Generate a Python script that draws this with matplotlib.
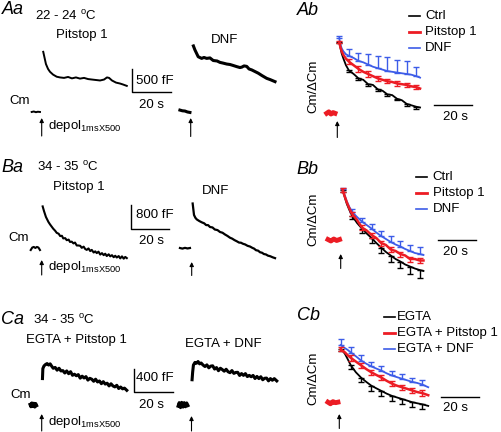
import numpy as np
import matplotlib
matplotlib.use('Agg')
import matplotlib.pyplot as plt
from matplotlib.lines import Line2D

nan = np.nan

# ---------------- raw capacitance traces (s, fF); baseline, gap, response ----------------
pit_a_t = [-5.2, -4.1, -3.0, -2.0, -0.9, nan, 0.8, 1.5, 2.2, 3.3, 4.3, 5.9, 7.8, 9.5, 11.6,
           13.7, 15.7, 17.8, 19.9, 22.0, 24.1, 26.1, 28.2, 30.3, 32.4, 33.9, 35.0, 36.5,
           38.6, 40.7, 42.2, 44.2]
pit_a_v = [-10, 0, -15, -5, -10, nan, 1270, 1140, 1010, 905, 845, 785, 740, 725, 715,
           735, 705, 725, 700, 715, 690, 680, 670, 660, 680, 725, 715, 660,
           615, 595, 575, 545]

dnf_a_t = [-5.6, -4.3, -3.0, -1.7, -0.4, nan, 1.4, 2.2, 3.9, 5.7, 6.9, 8.3, 10.0, 11.7,
           13.7, 15.2, 16.8, 18.7, 20.4, 22.0, 23.9, 25.6, 26.6, 27.7, 29.1, 30.3, 31.7,
           33.4, 35.1, 37.0, 39.5, 41.2, 43.8]
dnf_a_v = [30, 15, 10, -10, -20, nan, 1395, 1310, 1165, 1130, 1150, 1130, 1140, 1085,
           1075, 1045, 1030, 1010, 1000, 980, 955, 935, 945, 970, 960, 905, 885,
           850, 815, 765, 705, 680, 635]

pit_b_t = [-5.7, -4.9, -4.1, -3.3, -2.5, -1.7, -0.9, nan,
           0.5, 1.2, 2.2, 3.5, 4.3, 5.2, 6.0, 7.0, 7.8, 8.8,
           9.6, 10.5, 11.2, 12.2, 13.0, 14.0, 14.7, 15.6, 16.5, 17.3,
           18.2, 19.0, 20.0, 20.8, 21.8, 22.6, 23.4, 24.3, 25.2, 26.0,
           27.0, 27.8, 28.6, 29.5, 30.4, 31.3, 32.2, 33.0, 33.8, 34.8,
           35.6, 36.5, 37.4, 38.2, 39.0, 40.0, 40.8, 41.7, 42.6, 43.4, 44.2]
pit_b_v = [-35, 50, 70, 35, 70, 50, -35, nan,
           1450, 1290, 1090, 920, 840, 760, 690, 620, 550, 520,
           440, 450, 360, 370, 300, 320, 240, 250, 190, 220,
           120, 120, 110, 40, 80, 0, -30, 20, -70, -30,
           -120, -80, -140, -90, -190, -140, -210, -160, -240, -180,
           -250, -210, -280, -230, -290, -240, -320, -250, -330, -270, -310]

dnf_b_t = [-6.1, -4.8, -3.5, -2.2, -0.9, nan,
           0.5, 0.9, 1.2, 1.9, 2.6, 3.9, 5.2, 6.5, 7.5, 8.5,
           9.5, 10.8, 12.0, 13.4, 14.7, 16.0, 17.3, 18.6, 19.9, 21.0,
           22.2, 23.4, 24.6, 25.6, 26.6, 27.8, 29.0, 30.3, 31.5, 32.4,
           33.4, 34.5, 35.5, 36.5, 37.5, 38.6, 39.6, 40.8, 42.0, 43.3]
dnf_b_v = [10, -10, 15, -5, 10, nan,
           1525, 1300, 1135, 1040, 985, 930, 885, 850, 790, 790,
           725, 710, 640, 620, 555, 530, 470, 420, 360, 330,
           280, 240, 195, 190, 155, 130, 85, 60, 15, -10,
           -65, -80, -135, -150, -195, -210, -250, -270, -305, -335]

pit_c_t = [-6.1, -5.6, -5.1, -4.6, -4.1, -3.6, -3.1, -2.6, nan,
           0.4, 0.6, 1.2, 2.0, 2.8, 3.6, 4.4, 5.2, 6.0,
           7, 8, 9, 10, 11, 12, 13, 14, 15, 16, 17, 18, 19, 20, 21, 22, 23, 24, 25,
           26, 27, 28, 29, 30, 31, 32, 33, 34, 35, 36, 37, 38, 39, 40, 41, 42, 43, 44.2]
pit_c_v = [10, -30, 35, -25, 30, -35, 25, -10, nan,
           450, 620, 665, 690, 705, 680, 700, 660, 625,
           640, 593, 625, 580, 585, 545, 580, 533, 567, 506, 524, 498, 517, 457, 491,
           460, 483, 424, 454, 439, 404, 439, 392, 409, 363, 397, 356, 371, 325, 361,
           325, 308, 335, 281, 306, 275, 287, 250]

dnf_c_t = [-7.0, -6.4, -5.7, -5.1, -4.4, -3.8, -3.1, -2.5, -1.8, nan,
           0.3, 0.6, 1.0, 1.8, 2.6, 3.4, 4.2, 5.0, 6.0,
           7, 8, 9, 10, 11, 12, 13, 14, 15, 16, 17, 18, 19, 20, 21, 22, 23, 24, 25,
           26, 27, 28, 29, 30, 31, 32, 33, 34, 35, 36, 37, 38, 39, 40, 41, 42, 43, 44.3]
dnf_c_v = [-20, 40, -45, 45, -35, 40, -30, 35, -10, nan,
           430, 560, 680, 725, 710, 740, 700, 715, 680,
           655, 683, 633, 662, 667, 612, 637, 584, 626, 603, 575, 608, 566, 550, 586,
           538, 554, 556, 503, 535, 504, 534, 484, 504, 481, 503, 451, 486, 450, 481,
           430, 455, 458, 411, 449, 421, 449, 410]

# ---------------- normalised mean traces (Cm/dCm) ----------------
ab_t = [-5.5, -4.4, -3.3, -2.2, -1.2, nan, 1, 1.6, 2.3, 3.2, 4.5, 6, 8.5, 11, 13.5, 16,
        18.5, 21, 23.5, 26, 28.5, 31, 33.5, 36, 38.5, 41, 43]
ab_ctrl = [0.01, -0.01, 0.01, -0.01, 0.0, nan, 0.98, 0.90, 0.82, 0.75, 0.66, 0.59, 0.54,
           0.48, 0.46, 0.40, 0.39, 0.33, 0.31, 0.26, 0.25, 0.20, 0.18, 0.13, 0.11, 0.09, 0.08]
ab_pit = [0.0, 0.02, -0.01, 0.01, 0.0, nan, 0.98, 0.91, 0.85, 0.80, 0.75, 0.71, 0.66,
          0.61, 0.57, 0.54, 0.51, 0.48, 0.46, 0.44, 0.43, 0.41, 0.40, 0.39, 0.37, 0.36, 0.34]
ab_dnf = [0.0, 0.01, 0.0, -0.01, 0.01, nan, 1.03, 0.95, 0.89, 0.85, 0.81, 0.79, 0.76,
          0.72, 0.70, 0.67, 0.64, 0.62, 0.60, 0.58, 0.57, 0.56, 0.55, 0.54, 0.53, 0.51, 0.49]
ab_err_t = [1, 6, 11, 16, 21, 26, 31, 36, 41]
ab_ctrl_err = [0.02, 0.02, 0.02, 0.02, 0.02, 0.02, 0.02, 0.03, 0.03]
ab_pit_err = [0.02, 0.03, 0.04, 0.04, 0.03, 0.03, 0.03, 0.03, 0.03]
ab_dnf_err = [0.03, 0.09, 0.11, 0.15, 0.17, 0.20, 0.17, 0.18, 0.13]

bb_t = [-6.6, -5.1, -3.6, -2.1, -0.6, nan, 1, 1.6, 2.3, 3.2, 4.5, 6, 8.5, 11, 13.5, 16,
        18.5, 21, 23.5, 26, 28.5, 31, 33.5, 36, 38.5, 41, 43]
bb_ctrl = [0.0, 0.02, 0.0, 0.01, 0.0, nan, 1.0, 0.92, 0.83, 0.72, 0.60, 0.48, 0.34, 0.23,
           0.13, 0.04, -0.06, -0.15, -0.24, -0.31, -0.38, -0.43, -0.49, -0.53, -0.57,
           -0.60, -0.62]
bb_pit = [0.01, -0.02, 0.02, -0.01, 0.01, nan, 1.0, 0.93, 0.85, 0.75, 0.63, 0.52, 0.40,
          0.25, 0.19, 0.10, 0.04, -0.06, -0.10, -0.19, -0.22, -0.28, -0.31, -0.38, -0.38,
          -0.41, -0.41]
bb_dnf = [0.02, 0.0, 0.01, -0.01, 0.0, nan, 1.02, 0.95, 0.87, 0.77, 0.66, 0.56, 0.46,
          0.37, 0.30, 0.23, 0.15, 0.08, 0.02, -0.04, -0.09, -0.13, -0.18, -0.22, -0.26,
          -0.28, -0.30]
bb_err_t = [1, 6, 11, 16, 21, 26, 31, 36, 41]
bb_ctrl_err = [0.03, 0.06, 0.08, 0.10, 0.11, 0.12, 0.13, 0.14, 0.15]
bb_pit_err = [0.04, 0.04, 0.05, 0.05, 0.05, 0.05, 0.05, 0.05, 0.05]
bb_dnf_err = [0.03, 0.06, 0.08, 0.10, 0.11, 0.12, 0.12, 0.13, 0.15]

cb_t = [-5.9, -4.6, -3.3, -2.0, -0.7, nan, 0.7, 1.4, 2.2, 3.0, 4.3, 6, 8.6, 11.3, 14,
        16.6, 19.2, 21.9, 24.6, 27.2, 29.8, 32.5, 35.2, 37.8, 40.4, 43.1, 46.2]
cb_ctrl = [0.0, 0.02, -0.02, 0.01, 0.0, nan, 1.0, 0.98, 0.95, 0.91, 0.82, 0.70, 0.57,
           0.47, 0.39, 0.32, 0.27, 0.22, 0.17, 0.13, 0.10, 0.07, 0.04, 0.01, -0.01,
           -0.03, -0.06]
cb_pit = [0.01, -0.02, 0.02, 0.0, 0.01, nan, 1.0, 0.98, 0.96, 0.94, 0.89, 0.84, 0.77,
          0.70, 0.63, 0.57, 0.52, 0.47, 0.41, 0.36, 0.32, 0.29, 0.26, 0.23, 0.20, 0.18, 0.14]
cb_dnf = [0.02, 0.0, 0.01, -0.02, 0.0, nan, 1.08, 1.06, 1.04, 1.02, 0.99, 0.94, 0.87,
          0.79, 0.73, 0.68, 0.64, 0.60, 0.55, 0.51, 0.48, 0.45, 0.42, 0.39, 0.37, 0.34, 0.29]
cb_err_t = [0.7, 6, 11.3, 16.6, 21.9, 27.2, 32.5, 37.8, 43.1]
cb_ctrl_err = [0.03, 0.07, 0.09, 0.10, 0.10, 0.10, 0.10, 0.09, 0.08]
cb_pit_err = [0.04, 0.05, 0.05, 0.05, 0.05, 0.05, 0.05, 0.05, 0.05]
cb_dnf_err = [0.11, 0.10, 0.10, 0.09, 0.09, 0.09, 0.09, 0.08, 0.08]

legend_b = ['Ctrl', 'Pitstop 1', 'DNF']
legend_c = ['EGTA', 'EGTA + Pitstop 1', 'EGTA + DNF']

# ---------------- layout ----------------
W, H = 502, 432
PPS = 1.925     # pixels per second (20 s bar)
BAR = 23.5      # pixel height of the fF bars
FS = 9.5
RED = '#ec1c24'
BLUE = '#3d5ce8'

plt.rcParams['font.family'] = 'Liberation Sans'
plt.rcParams['mathtext.fontset'] = 'custom'
plt.rcParams['mathtext.rm'] = 'Liberation Sans'
plt.rcParams['mathtext.it'] = 'Liberation Sans:italic'

fig = plt.figure(figsize=(W / 100, H / 100), dpi=100)


def panel(x0, y0, ppu):
    '''Invisible full-figure axes, data (0, 0) sits at pixel (x0, y0).'''
    ax = fig.add_axes([0, 0, 1, 1])
    ax.set_xlim(-x0 / PPS, (W - x0) / PPS)
    ax.set_ylim((y0 - H) / ppu, y0 / ppu)
    ax.axis('off')
    ax._pix = (x0, y0, ppu)
    return ax


def to_data(ax, px, py):
    x0, y0, ppu = ax._pix
    return (px - x0) / PPS, (y0 - py) / ppu


def text(x, y, s, ha='left', va='center', **kw):
    kw.setdefault('fontsize', FS)
    fig.text(x / W, 1 - y / H, s, ha=ha, va=va, **kw)


def arrow(ax, y_tail, y_head):
    _, v_tail = to_data(ax, ax._pix[0], y_tail)
    _, v_head = to_data(ax, ax._pix[0], y_head)
    ax.annotate('', xy=(0, v_head), xytext=(0, v_tail),
                arrowprops=dict(arrowstyle='-|>', color='k', lw=0.8,
                                mutation_scale=6, shrinkA=0, shrinkB=0))


def fF_bar(ax, px, py, fF):
    t, v = to_data(ax, px, py)
    ax.plot([t, t, t + 20], [v + fF, v, v], color='k', lw=1)


def s_bar(ax, px, py):
    t, v = to_data(ax, px, py)
    ax.plot([t, t + 20], [v, v], color='k', lw=1)


def legend(x_line, x_text, y_first, dy, labels):
    styles = [('k', 1.2), (RED, 2.0), (BLUE, 1.2)]
    for i, (lab, (c, lw)) in enumerate(zip(labels, styles)):
        y = y_first + i * dy
        fig.add_artist(Line2D([x_line / W, (x_line + 11) / W], [1 - y / H] * 2,
                              color=c, lw=lw))
        text(x_text, y, lab)


def mean_panel(ax, t, series, err_t, errs):
    t = np.array(t)
    mask = np.isin(t, err_t)
    # ctrl: lower bars, pitstop: both sides, dnf: upper bars
    sides = ['low', 'both', 'up']
    order = [0, 2, 1]
    for i in order:
        v = np.array(series[i])
        c = ['k', RED, BLUE][i]
        e = np.array(errs[i])
        lo = e if sides[i] in ('low', 'both') else np.zeros_like(e)
        hi = e if sides[i] in ('up', 'both') else np.zeros_like(e)
        ax.errorbar(t[mask], v[mask], yerr=[lo, hi], fmt='none', ecolor=c,
                    elinewidth=1, capsize=2.3, capthick=1)
        ax.plot(t, v, color=c, lw=1.8 if i == 1 else 1.3)
    ax.plot(t[:5], np.array(series[1])[:5], color=RED, lw=3.5)


# ---- raw rows ----
rows = [
    (pit_a_t, pit_a_v, dnf_a_t, dnf_a_v, 500, (41.7, 111.5), (190.7, 111.5), 1.4, 2.2),
    (pit_b_t, pit_b_v, dnf_b_t, dnf_b_v, 800, (41.7, 249.0), (191.7, 248.3), 1.5, 1.6),
    (pit_c_t, pit_c_v, dnf_c_t, dnf_c_v, 400, (41.7, 405.0), (191.5, 405.0), 2.2, 2.2),
]
axes_raw = []
for pt, pv, dt, dv, fF, p0, d0, lwp, lwd in rows:
    ax_p = panel(p0[0], p0[1], BAR / fF)
    ax_d = panel(d0[0], d0[1], BAR / fF)
    ax_p.plot(pt, pv, color='k', lw=lwp)
    ax_d.plot(dt, dv, color='k', lw=lwd)
    axes_raw.append((ax_p, ax_d, fF))

# scale bars + arrows for raw rows
(ax_p, ax_d, fF) = axes_raw[0]
fF_bar(ax_p, 132.3, 92.5, fF)
arrow(ax_p, 136, 118)
arrow(ax_d, 136.5, 118)
(ax_p, ax_d, fF) = axes_raw[1]
fF_bar(ax_p, 131.0, 228.5, fF)
arrow(ax_p, 275, 260)
arrow(ax_d, 275.5, 262)
(ax_p, ax_d, fF) = axes_raw[2]
fF_bar(ax_p, 134.3, 392.0, fF)
arrow(ax_p, 431, 414)
arrow(ax_d, 431, 416)

# ---- normalised panels ----
ax_ab = panel(337.3, 113.3, 72.8)
mean_panel(ax_ab, ab_t, [ab_ctrl, ab_pit, ab_dnf], ab_err_t,
           [ab_ctrl_err, ab_pit_err, ab_dnf_err])
s_bar(ax_ab, 434.0, 105.0)
arrow(ax_ab, 137.5, 121)

ax_bb = panel(340.7, 240.0, 50.0)
mean_panel(ax_bb, bb_t, [bb_ctrl, bb_pit, bb_dnf], bb_err_t,
           [bb_ctrl_err, bb_pit_err, bb_dnf_err])
s_bar(ax_bb, 437.7, 240.0)
arrow(ax_bb, 268.5, 254)

ax_cb = panel(339.3, 402.7, 53.4)
mean_panel(ax_cb, cb_t, [cb_ctrl, cb_pit, cb_dnf], cb_err_t,
           [cb_ctrl_err, cb_pit_err, cb_dnf_err])
s_bar(ax_cb, 440.7, 396.7)
arrow(ax_cb, 428.5, 414)

# ---- text ----
big = dict(fontsize=13, fontstyle='italic')
deg = r'$^{\rm o}$C'
depol = r'depol$_{\rm 1msX500}$'

text(2, 10, 'Aa', **big)
text(35, 16, '22 - 24 ' + deg)
text(56, 35, 'Pitstop 1')
text(210.5, 40, 'DNF')
text(9.5, 101, 'Cm')
text(136.5, 81, '500 fF')
text(139.5, 104.5, '20 s')
text(48, 126, depol)

text(1, 167, 'Ba', **big)
text(37, 167, '34 - 35 ' + deg)
text(53.5, 186.5, 'Pitstop 1')
text(202, 191.5, 'DNF')
text(8.5, 238, 'Cm')
text(136.5, 215, '800 fF')
text(139.5, 241.5, '20 s')
text(48, 267, depol)

text(1, 320, 'Ca', **big)
text(33.5, 320, '34 - 35 ' + deg)
text(26, 340, 'EGTA + Pitstop 1')
text(185, 344, 'EGTA + DNF')
text(10, 395, 'Cm')
text(136.5, 378, '400 fF')
text(139, 405, '20 s')
text(48, 422, depol)

text(296.5, 10.5, 'Ab', **big)
text(296.5, 169, 'Bb', **big)
text(296.5, 315, 'Cb', **big)
for y in (86, 219, 378):
    text(313.5, y, 'Cm/ΔCm', ha='center', rotation=90)
text(443, 117, '20 s')
text(443, 252, '20 s')
text(443, 408, '20 s')

legend(409, 425, 16, 16.2, legend_b)
legend(416, 432.7, 177, 16, legend_b)
legend(384, 396.7, 316.7, 16.3, legend_c)

fig.savefig('out.png', dpi=100)
